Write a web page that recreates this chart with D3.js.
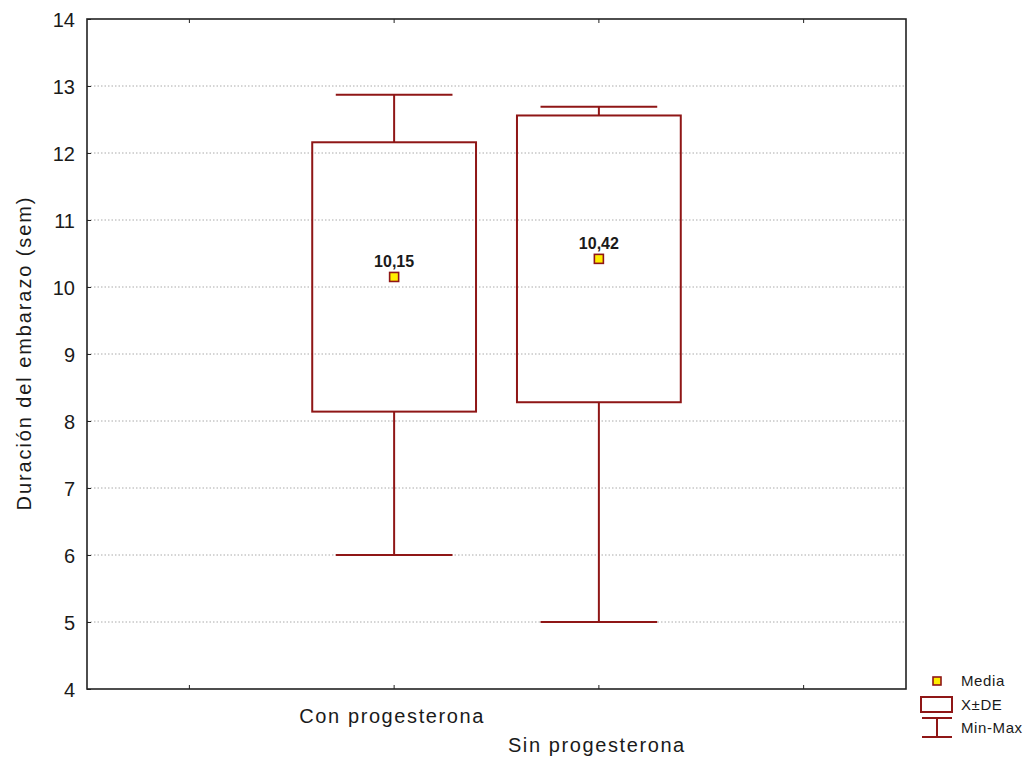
<!DOCTYPE html>
<html><head><meta charset="utf-8">
<script src="https://cdn.jsdelivr.net/npm/d3@7"></script>
<style>
body{margin:0;background:#fff;}
text{font-family:Arial,"Liberation Sans",sans-serif;}
</style></head>
<body><svg id="c" width="1029" height="758"></svg>
<script>
const categories = ["Con progesterona", "Sin progesterona"];
const means = [10.15, 10.42];
const meanLabels = ["10,15", "10,42"];
const sdLow = [8.14, 8.28];
const sdHigh = [12.16, 12.56];
const minVals = [6, 5];
const maxVals = [12.87, 12.69];
const yTicks = [4,5,6,7,8,9,10,11,12,13,14];

const svg = d3.select("#c");
const L=87, R=906, T=19, B=689;
const red = "#8f1616";
const txt = "#1a1a1a";
const xDomain = ["_a", ...categories, "_b"];
const x = d3.scaleBand().domain(xDomain).range([L,R]).paddingInner(0).paddingOuter(0);
const cx = d => x(d) + x.bandwidth()/2;
const y = d3.scaleLinear().domain([4,14]).range([B,T]);

// gridlines
svg.append("g").selectAll("line").data(yTicks.filter(t=>t>4&&t<14)).join("line")
  .attr("x1",L).attr("x2",R).attr("y1",d=>y(d)).attr("y2",d=>y(d))
  .attr("stroke","#aaa").attr("stroke-width",1).attr("stroke-dasharray","1.5,2");

// y axis
const yAxis = d3.axisLeft(y).tickValues(yTicks).tickSize(-4).tickPadding(12).tickFormat(d3.format("d"));
const gy = svg.append("g").attr("transform",`translate(${L},0)`).call(yAxis);
gy.select(".domain").remove();
gy.selectAll("text").attr("font-size","20px").attr("fill",txt).attr("dy","0.36em");
gy.selectAll("line").attr("stroke","#222");

// x axis ticks (bottom & top) inward
svg.append("g").selectAll("line").data(xDomain).join("line")
  .attr("x1",d=>cx(d)).attr("x2",d=>cx(d)).attr("y1",B).attr("y2",B-4).attr("stroke","#222");
svg.append("g").selectAll("line").data(xDomain).join("line")
  .attr("x1",d=>cx(d)).attr("x2",d=>cx(d)).attr("y1",T).attr("y2",T+4).attr("stroke","#222");

// frame
svg.append("rect").attr("x",L).attr("y",T).attr("width",R-L).attr("height",B-T)
  .attr("fill","none").attr("stroke","#222").attr("stroke-width",1.6);

// x labels (staggered)
svg.append("g").selectAll("text").data(categories).join("text")
  .attr("x",d=>cx(d)-2).attr("y",(d,i)=>i===0?723:752)
  .attr("text-anchor","middle").attr("font-size","20px").attr("letter-spacing","1.6px")
  .attr("fill",txt).text(d=>d);

// y title
svg.append("text").attr("transform",`translate(31,353) rotate(-90)`)
  .attr("text-anchor","middle").attr("font-size","20px").attr("letter-spacing","1.9px").attr("fill",txt)
  .text("Duración del embarazo (sem)");

const bw = x.bandwidth()*0.8;
const cw = x.bandwidth()*0.57;
const g = svg.append("g");
categories.forEach((c,i)=>{
  const xc = cx(c);
  g.append("line").attr("x1",xc).attr("x2",xc).attr("y1",y(maxVals[i])).attr("y2",y(sdHigh[i])).attr("stroke",red).attr("stroke-width",2);
  g.append("line").attr("x1",xc).attr("x2",xc).attr("y1",y(sdLow[i])).attr("y2",y(minVals[i])).attr("stroke",red).attr("stroke-width",2);
  g.append("line").attr("x1",xc-cw/2).attr("x2",xc+cw/2).attr("y1",y(maxVals[i])).attr("y2",y(maxVals[i])).attr("stroke",red).attr("stroke-width",2);
  g.append("line").attr("x1",xc-cw/2).attr("x2",xc+cw/2).attr("y1",y(minVals[i])).attr("y2",y(minVals[i])).attr("stroke",red).attr("stroke-width",2);
  g.append("rect").attr("x",xc-bw/2).attr("y",y(sdHigh[i])).attr("width",bw).attr("height",y(sdLow[i])-y(sdHigh[i]))
    .attr("fill","none").attr("stroke",red).attr("stroke-width",2);
  g.append("rect").attr("x",xc-4.5).attr("y",y(means[i])-4.5).attr("width",9).attr("height",9)
    .attr("fill","#ffee00").attr("stroke",red).attr("stroke-width",1.6);
  g.append("text").attr("x",xc).attr("y",y(means[i])-10).attr("text-anchor","middle")
    .attr("font-size","16px").attr("font-weight","bold").attr("fill",txt)
    .text(meanLabels[i]);
});

// legend
const lg = svg.append("g");
const lx = 937;
lg.append("rect").attr("x",lx-4).attr("y",677).attr("width",8).attr("height",8)
  .attr("fill","#ffee00").attr("stroke",red).attr("stroke-width",1.6);
lg.append("rect").attr("x",921).attr("y",697).attr("width",31).attr("height",15)
  .attr("fill","none").attr("stroke",red).attr("stroke-width",2);
lg.append("line").attr("x1",922).attr("x2",952).attr("y1",718).attr("y2",718).attr("stroke",red).attr("stroke-width",2);
lg.append("line").attr("x1",922).attr("x2",952).attr("y1",737).attr("y2",737).attr("stroke",red).attr("stroke-width",2);
lg.append("line").attr("x1",lx).attr("x2",lx).attr("y1",718).attr("y2",737).attr("stroke",red).attr("stroke-width",2);
const legTexts = [["Media",686],["X±DE",710],["Min-Max",733]];
lg.selectAll("text.l").data(legTexts).join("text").attr("class","l")
  .attr("x",961).attr("y",d=>d[1]).attr("font-size","15px").attr("letter-spacing","0.6px").attr("fill",txt)
  .text(d=>d[0]);
</script></body></html>
